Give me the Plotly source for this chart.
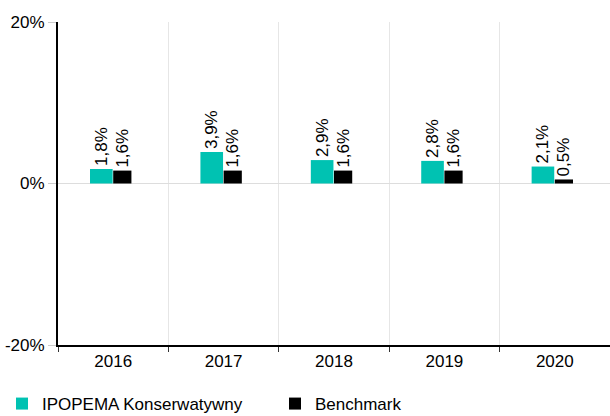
import plotly.graph_objects as go

years = ["2016", "2017", "2018", "2019", "2020"]
fund_values = [1.8, 3.9, 2.9, 2.8, 2.1]
bench_values = [1.6, 1.6, 1.6, 1.6, 0.5]
fund_name = "IPOPEMA Konserwatywny"
bench_name = "Benchmark"
y_ticks = [-20, 0, 20]
y_tick_labels = ["-20%", "0%", "20%"]

TEAL = "#00C2B2"
FONT = "Liberation Sans, Arial, sans-serif"
FS = 17

fig = go.Figure()
fig.add_trace(go.Bar(
    x=years, y=fund_values, name=fund_name,
    marker=dict(color=TEAL, line=dict(width=0)),
    width=0.205, offset=-0.21,
    texttemplate="%{y:.1f}%", textposition="outside", textangle=-90,
    textfont=dict(size=FS, color="#000000", family=FONT),
    cliponaxis=False,
))
fig.add_trace(go.Bar(
    x=years, y=bench_values, name=bench_name,
    marker=dict(color="#000000", line=dict(width=0)),
    width=0.165, offset=0.0,
    texttemplate="%{y:.1f}%", textposition="outside", textangle=-90,
    textfont=dict(size=FS, color="#000000", family=FONT),
    cliponaxis=False,
))

fig.update_layout(
    width=610, height=416,
    margin=dict(l=58, r=0, t=22, b=71, autoexpand=False),
    barmode="overlay",
    separators=", ",
    uniformtext=dict(minsize=FS, mode="show"),
    plot_bgcolor="white", paper_bgcolor="white",
    font=dict(family=FONT, size=FS, color="#000000"),
    showlegend=True,
    legend=dict(
        orientation="h", x=-56/552, xanchor="left", y=-0.127, yanchor="top",
        font=dict(size=FS, family=FONT, color="#000000"),
        entrywidth=228, entrywidthmode="pixels",
        itemsizing="constant", traceorder="normal",
        bgcolor="rgba(0,0,0,0)",
    ),
    xaxis=dict(
        type="category", tickson="boundaries",
        showgrid=True, gridcolor="#e6e6e6", gridwidth=1,
        showline=True, linecolor="#000000", linewidth=2,
        ticks="outside", ticklen=5, tickcolor="#333333", tickwidth=1,
        tickfont=dict(size=FS, family=FONT, color="#000000"),
    ),
    yaxis=dict(
        range=[-20, 20], tickvals=y_ticks, ticktext=y_tick_labels,
        showgrid=True, gridcolor="#dddddd", gridwidth=1,
        zeroline=False,
        showline=True, linecolor="#000000", linewidth=2,
        ticks="outside", ticklen=8, tickcolor="#cccccc", tickwidth=1,
        tickfont=dict(size=FS, family=FONT, color="#000000"),
    ),
)

fig.write_html(
    "out.html",
    config={"displayModeBar": False},
    post_script="document.body.style.margin='0';document.body.style.padding='0';",
)
